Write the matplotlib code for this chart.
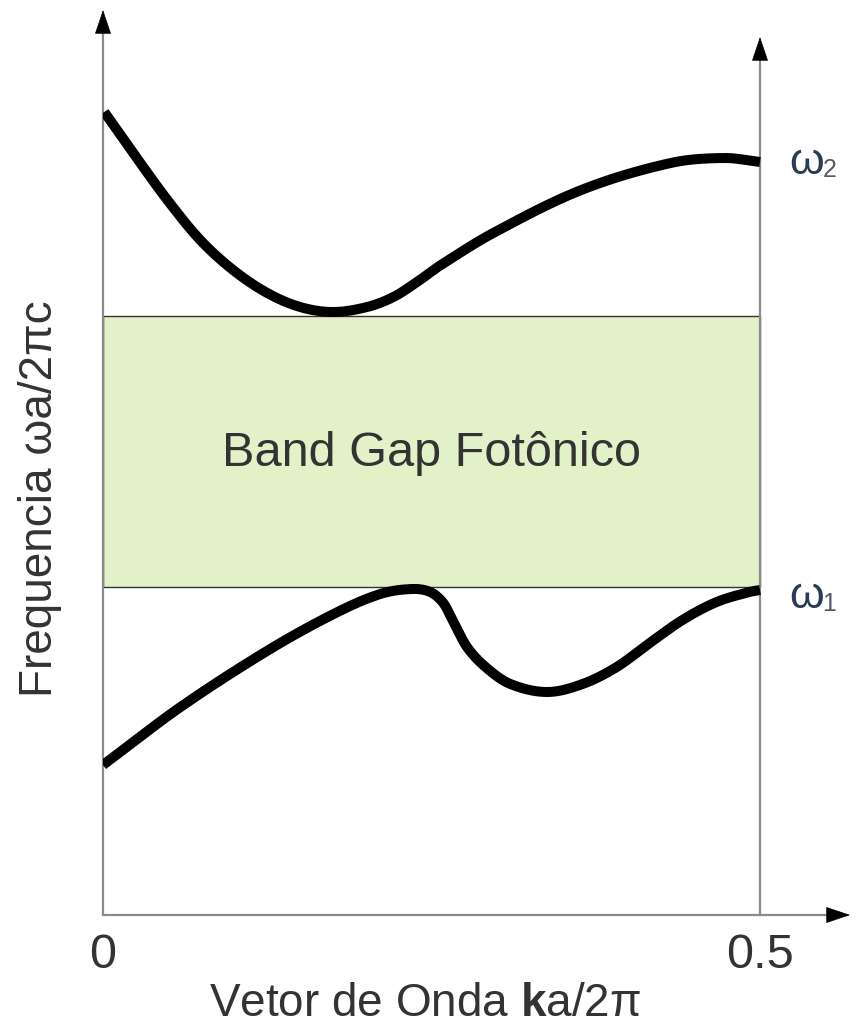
import matplotlib
matplotlib.use("Agg")
import matplotlib.pyplot as plt
import numpy as np
from matplotlib.patches import Rectangle

plt.rcParams["mathtext.fontset"] = "custom"
plt.rcParams["mathtext.rm"] = "Liberation Sans"
plt.rcParams["mathtext.bf"] = "Liberation Sans:bold"

W, H = 856, 1034
# Data (k in units of a/2pi, frequency in arbitrary units)
upper_k = [0.001, 0.023, 0.049, 0.074, 0.099, 0.125, 0.150, 0.175, 0.201, 0.221, 0.239, 0.256,
           0.297, 0.364, 0.432, 0.473, 0.5]
upper_w = [0.803, 0.762, 0.715, 0.675, 0.645, 0.622, 0.608, 0.603, 0.608, 0.618, 0.633, 0.649,
           0.682, 0.725, 0.752, 0.757, 0.753]
lower_k = [0.0, 0.059, 0.126, 0.177, 0.211, 0.235, 0.249, 0.259, 0.266, 0.277, 0.292, 0.310,
           0.338, 0.365, 0.391, 0.416, 0.441, 0.467, 0.492, 0.5]
lower_w = [0.150, 0.208, 0.265, 0.302, 0.321, 0.326, 0.323, 0.312, 0.295, 0.268, 0.247, 0.231,
           0.223, 0.231, 0.248, 0.272, 0.295, 0.313, 0.323, 0.325]
gap_bottom, gap_top = 0.328, 0.599
k_ticks = [0, 0.5]
k_tick_labels = ["0", "0.5"]
band_names = ["1", "2"]

FONT = "Liberation Sans"

fig = plt.figure(figsize=(W / 100, H / 100), dpi=100)
x0, x1 = 103, 850
y0, y1 = 915, 10
ax = fig.add_axes([x0 / W, 1 - y0 / H, (x1 - x0) / W, (y0 - y1) / H])
xmax = 0.5 * (x1 - x0) / 657
ymax = (y0 - y1) / 1000
ax.set_xlim(0, xmax)
ax.set_ylim(0, ymax)
ax.axis("off")

gray = "#8a8a8a"
txt = "#333333"
kx = 0.5 / 657  # data per pixel horizontally
ky = 1 / 1000   # data per pixel vertically


def arrow(tip, base):
    ax.annotate("", xy=tip, xytext=base, annotation_clip=False,
                arrowprops=dict(arrowstyle="-|>,head_length=0.8,head_width=0.27",
                                mutation_scale=20, color="black", lw=0.5,
                                shrinkA=0, shrinkB=0), zorder=3)


# axis lines with black arrowheads
ax.plot([0, xmax - 20 * kx], [0, 0], color=gray, lw=1.6, clip_on=False, zorder=2)
ax.plot([0, 0], [0, ymax - 20 * ky], color=gray, lw=1.6, clip_on=False, zorder=2)
rtop = (915 - 37) * ky
ax.plot([0.5, 0.5], [0, rtop - 20 * ky], color=gray, lw=1.6, clip_on=False, zorder=2)
arrow((xmax, 0), (xmax - 4 * kx, 0))
arrow((0, ymax), (0, ymax - 4 * ky))
arrow((0.5, rtop), (0.5, rtop - 4 * ky))

# band gap rectangle
ax.add_patch(Rectangle((0, gap_bottom), 0.5, gap_top - gap_bottom,
                       facecolor="#e3f1c8", edgecolor="#333333", lw=1.0, zorder=1))
ax.text(0.25, 0.462, "Band Gap Fotônico", ha="center", va="center",
        fontsize=35, color=txt, family=FONT, zorder=4)


def hermite(xs, ys, n=800):
    x = np.asarray(xs, float); y = np.asarray(ys, float)
    h = np.diff(x)
    m = np.zeros_like(y)
    m[1:-1] = (y[2:] - y[:-2]) / (x[2:] - x[:-2])
    m[0] = (y[1] - y[0]) / h[0]
    m[-1] = (y[-1] - y[-2]) / h[-1]
    xx = np.linspace(x[0], x[-1], n)
    idx = np.clip(np.searchsorted(x, xx) - 1, 0, len(x) - 2)
    t = (xx - x[idx]) / h[idx]
    h00 = 2 * t ** 3 - 3 * t ** 2 + 1; h10 = t ** 3 - 2 * t ** 2 + t
    h01 = -2 * t ** 3 + 3 * t ** 2; h11 = t ** 3 - t ** 2
    yy = h00 * y[idx] + h10 * h[idx] * m[idx] + h01 * y[idx + 1] + h11 * h[idx] * m[idx + 1]
    return xx, yy


ux, uy = hermite(upper_k, upper_w)
lx, ly = hermite(lower_k, lower_w)
ax.plot(ux, uy, color="black", lw=7.2, solid_capstyle="butt", zorder=5)
ax.plot(lx, ly, color="black", lw=7.2, solid_capstyle="butt", zorder=5)

# band labels
for yv, nm in [(0.318, band_names[0]), (0.752, band_names[1])]:
    ax.text(0.5 + 0.022, yv, "ω", ha="left", va="center", fontsize=32,
            color="#2b3a55", family=FONT)
    ax.text(0.5 + 0.0475, yv - 0.007, nm, ha="left", va="center", fontsize=18,
            color="#555a66", family=FONT)

for k, lab in zip(k_ticks, k_tick_labels):
    ax.text(k, -0.040, lab, ha="center", va="center", fontsize=35, color=txt, family=FONT)

fig.text(425 / W, 1 - 1004 / H, "Vetor de Onda $\\mathbf{k}$a/2π", ha="center", va="center",
         fontsize=33, color=txt, family=FONT)
fig.text(40 / W, 1 - 499 / H, "Frequencia ωa/2πc", ha="center", va="center", rotation=90,
         fontsize=33, color=txt, family=FONT)

fig.savefig("out.png", dpi=100)
